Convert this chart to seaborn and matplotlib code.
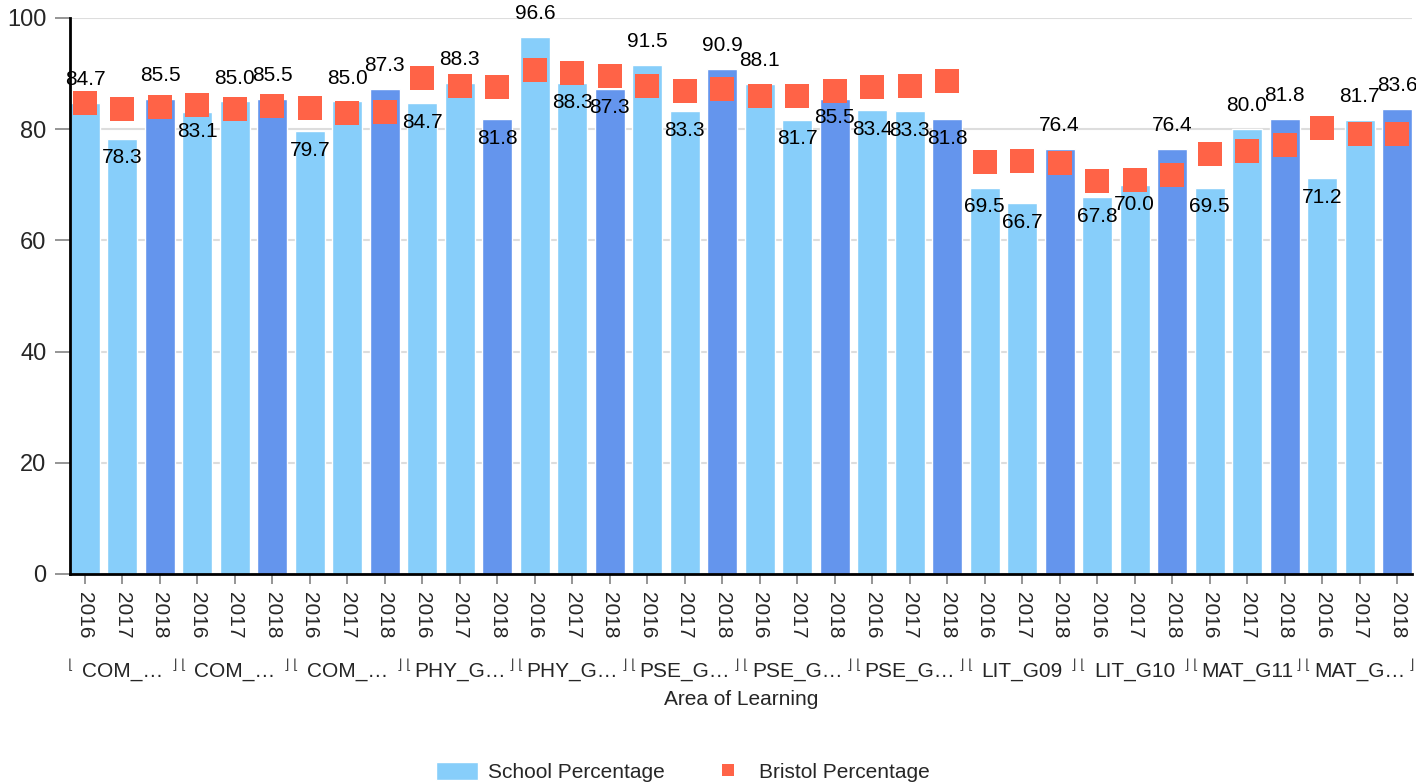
import numpy as np
import pandas as pd
import matplotlib
matplotlib.use("Agg")
import matplotlib.pyplot as plt
import matplotlib.transforms as mtransforms
from matplotlib.patches import Patch
from matplotlib.lines import Line2D
import seaborn as sns

# Data
groups = ["COM_…", "COM_…", "COM_…", "PHY_G…", "PHY_G…", "PSE_G…",
          "PSE_G…", "PSE_G…", "LIT_G09", "LIT_G10", "MAT_G11", "MAT_G…"]
years = ["2016", "2017", "2018"]

school = [84.7, 78.3, 85.5, 83.1, 85.0, 85.5, 79.7, 85.0, 87.3,
          84.7, 88.3, 81.8, 96.6, 88.3, 87.3, 91.5, 83.3, 90.9,
          88.1, 81.7, 85.5, 83.4, 83.3, 81.8, 69.5, 66.7, 76.4,
          67.8, 70.0, 76.4, 69.5, 80.0, 81.8, 71.2, 81.7, 83.6]

bristol = [84.7, 83.7, 84.0, 84.3, 83.6, 84.1, 83.8, 82.9, 83.1,
           89.2, 87.7, 87.6, 90.7, 90.1, 89.5, 87.7, 86.8, 87.3,
           85.9, 85.9, 86.8, 87.6, 87.7, 88.7, 74.1, 74.3, 74.0,
           70.7, 70.9, 71.7, 75.5, 76.0, 77.2, 80.3, 79.2, 79.2]

df = pd.DataFrame({
    "pos": np.arange(len(school)),
    "year": years * len(groups),
    "school": school,
    "bristol": bristol,
})

sns.set_theme(style="white")
plt.rcParams["font.family"] = ["Liberation Sans", "DejaVu Sans"]

fig, ax = plt.subplots(figsize=(14.16, 7.84), dpi=100)
fig.subplots_adjust(left=70 / 1416, right=1412 / 1416, top=1 - 18 / 784, bottom=1 - 574 / 784)

light = "#87CEFA"
dark = "#6495ED"
red = "#FF6347"
palette = {"2016": light, "2017": light, "2018": dark}

sns.barplot(data=df, x="pos", y="school", hue="year", palette=palette, saturation=1,
            dodge=False, width=0.8, legend=False, ax=ax, zorder=2)
sns.scatterplot(data=df, x="pos", y="bristol", marker="s", s=280, color=red,
                linewidth=0, legend=False, ax=ax, zorder=3)

# value labels: above the bar unless the Bristol square sits above it
for i, (s, b) in enumerate(zip(school, bristol)):
    if s >= b - 0.5:
        ax.annotate(f"{s:.1f}", (i, s), xytext=(0, 10), textcoords="offset points",
                    ha="center", va="bottom", fontsize=15, color="black", zorder=4)
    else:
        ax.annotate(f"{s:.1f}", (i, s), xytext=(0, -7), textcoords="offset points",
                    ha="center", va="top", fontsize=15, color="black", zorder=4)

ax.set_xlim(-0.4, len(school) - 0.6)
ax.set_ylim(0, 100)
ax.set_yticks(range(0, 101, 20))
ax.set_xticks(range(len(school)))
ax.set_xticklabels(years * len(groups), rotation=-90, fontsize=15)
ax.tick_params(axis="x", bottom=True, length=7, color="#888888", pad=6)
ax.tick_params(axis="y", left=True, length=11, color="#888888", pad=6, labelsize=17)
ax.set_axisbelow(True)
ax.yaxis.grid(True, color="#dddddd", linewidth=1.5)

for side in ["top", "right"]:
    ax.spines[side].set_visible(False)
for side in ["left", "bottom"]:
    ax.spines[side].set_color("black")
    ax.spines[side].set_linewidth(2)

ax.set_ylabel("")
ax.set_xlabel("Area of Learning", fontsize=15)
ax.xaxis.set_label_coords(0.5, -0.208)

# group labels with small brackets
trans = mtransforms.blended_transform_factory(ax.transData, ax.transAxes)
for g, name in enumerate(groups):
    ax.text(3 * g + 1, -0.176, name, transform=trans, ha="center", va="center", fontsize=15)
    ax.text(3 * g - 0.45, -0.163, "⌊", transform=trans, ha="left", va="center",
            fontsize=10, color="#444444")
    ax.text(3 * g + 2.45, -0.163, "⌋", transform=trans, ha="right", va="center",
            fontsize=10, color="#444444")

handles = [
    Patch(facecolor=light, label="School Percentage"),
    Line2D([], [], marker="s", linestyle="none", markersize=8, markerfacecolor=red,
           markeredgewidth=0, label="Bristol Percentage"),
]
fig.legend(handles=handles, loc="center", bbox_to_anchor=(683 / 1416, 1 - 772 / 784),
           ncol=2, frameon=False, fontsize=15, handlelength=2.0, handleheight=1.0,
           handletextpad=0.5, columnspacing=2.0)

fig.savefig("out.png", dpi=100)
